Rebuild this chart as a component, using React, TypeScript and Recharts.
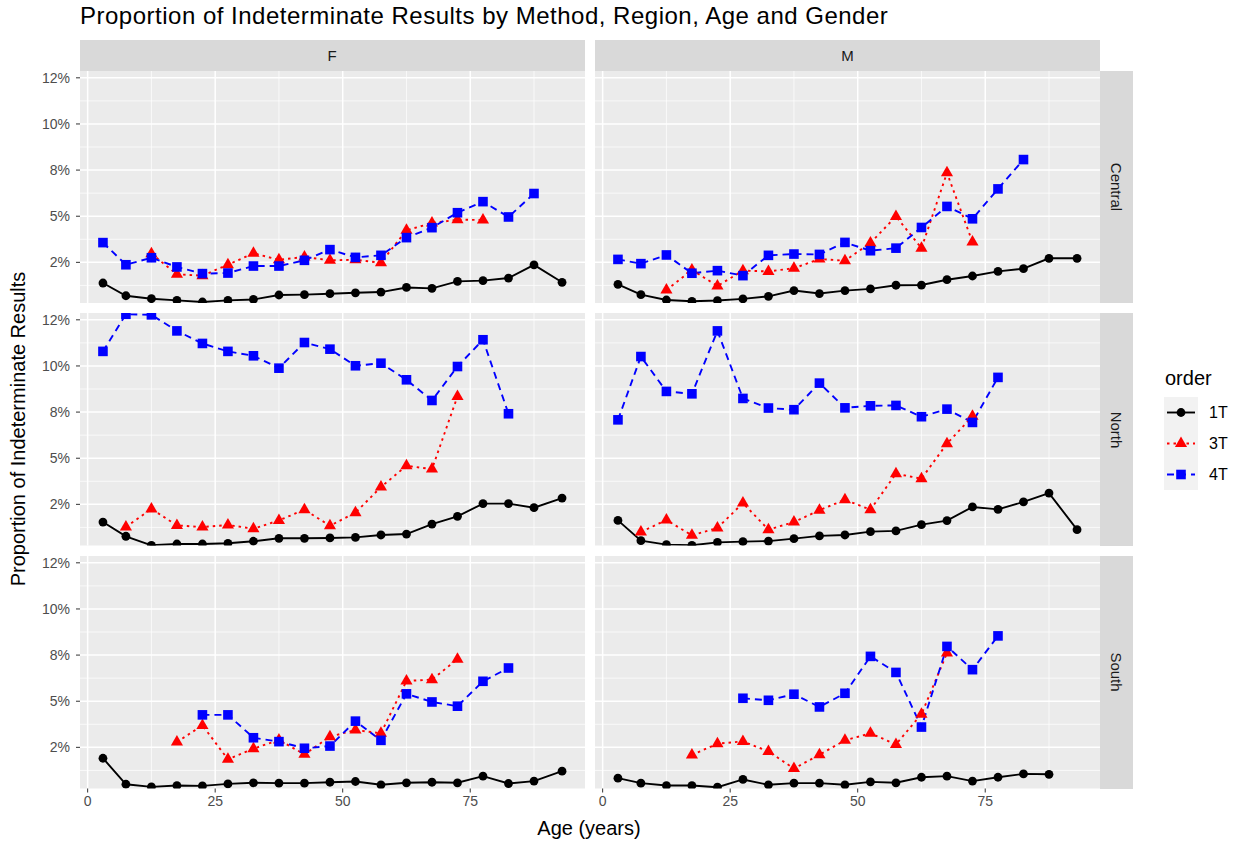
import React from 'react';
import { LineChart, Line, XAxis, YAxis, CartesianGrid } from 'recharts';

// mean age of each age band (years)
const ages = [3, 7.5, 12.5, 17.5, 22.5, 27.5, 32.5, 37.5, 42.5, 47.5, 52.5, 57.5, 62.5, 67.5, 72.5, 77.5, 82.5, 87.5, 93];

// proportions in %, one array per region / gender / order
const fCentral1T = [1.38, 0.69, 0.53, 0.44, 0.35, 0.44, 0.49, 0.73, 0.75, 0.8, 0.85, 0.89, 1.14, 1.09, 1.47, 1.51, 1.65, 2.36, 1.42];
const fCentral3T = [null, null, 2.97, 1.85, 1.78, 2.37, 2.99, 2.64, 2.79, 2.61, 2.64, 2.48, 4.24, 4.63, 4.81, 4.8, null, null, null];
const fCentral4T = [3.57, 2.37, 2.75, 2.25, 1.89, 1.92, 2.3, 2.3, 2.61, 3.19, 2.77, 2.88, 3.84, 4.38, 5.19, 5.79, 4.96, 6.23, null];

const mCentral1T = [1.31, 0.75, 0.46, 0.39, 0.43, 0.52, 0.66, 0.97, 0.81, 0.97, 1.06, 1.26, 1.27, 1.56, 1.76, 2.01, 2.16, 2.72, 2.72];
const mCentral3T = [null, null, 1.0, 2.09, 1.22, 2.05, 2.01, 2.18, 2.68, 2.59, 3.55, 4.99, 3.27, 7.35, 3.6, null, null, null, null];
const mCentral4T = [2.66, 2.43, 2.9, 1.91, 2.05, 1.78, 2.88, 2.95, 2.93, 3.58, 3.13, 3.27, 4.39, 5.53, 4.86, 6.48, 8.07, null, null];

const fNorth1T = [1.54, 0.77, 0.28, 0.35, 0.35, 0.39, 0.5, 0.66, 0.66, 0.68, 0.71, 0.84, 0.89, 1.43, 1.85, 2.54, 2.54, 2.32, 2.84];
const fNorth3T = [null, 1.27, 2.25, 1.36, 1.27, 1.38, 1.18, 1.63, 2.21, 1.34, 2.05, 3.44, 4.59, 4.41, 8.35, null, null, null, null];
const fNorth4T = [10.79, 12.8, 12.77, 11.9, 11.22, 10.79, 10.55, 9.88, 11.27, 10.91, 10.01, 10.15, 9.25, 8.13, 9.97, 11.42, 7.41, null, null];

const mNorth1T = [1.63, 0.53, 0.32, 0.28, 0.44, 0.48, 0.51, 0.64, 0.79, 0.84, 1.02, 1.06, 1.4, 1.62, 2.36, 2.23, 2.63, 3.11, 1.13];
const mNorth3T = [null, 1.0, 1.65, 0.82, 1.22, 2.57, 1.13, 1.54, 2.18, 2.75, 2.21, 4.16, 3.89, 5.79, 7.27, null, null, null, null];
const mNorth4T = [7.08, 10.51, 8.62, 8.49, 11.9, 8.24, 7.72, 7.63, 9.07, 7.73, 7.84, 7.86, 7.25, 7.66, 6.94, 9.38, null, null, null];

const fSouth1T = [1.91, 0.5, 0.36, 0.43, 0.41, 0.52, 0.58, 0.56, 0.56, 0.61, 0.65, 0.47, 0.58, 0.61, 0.58, 0.94, 0.54, 0.67, 1.21];
const fSouth3T = [null, null, null, 2.79, 3.69, 1.85, 2.43, 2.9, 2.12, 3.08, 3.44, 3.26, 6.1, 6.17, 7.28, null, null, null, null];
const fSouth4T = [null, null, null, null, 4.26, 4.26, 3.02, 2.81, 2.45, 2.57, 3.92, 2.88, 5.4, 4.96, 4.73, 6.08, 6.8, null, null];

const mSouth1T = [0.83, 0.56, 0.43, 0.43, 0.34, 0.76, 0.47, 0.56, 0.56, 0.47, 0.63, 0.58, 0.88, 0.94, 0.67, 0.88, 1.06, 1.04, null];
const mSouth3T = [null, null, null, 2.09, 2.7, 2.82, 2.28, 1.35, 2.1, 2.88, 3.26, 2.66, 4.3, 7.61, null, null, null, null, null];
const mSouth4T = [null, null, null, null, null, 5.16, 5.05, 5.38, 4.69, 5.43, 7.43, 6.56, 3.6, 7.97, 6.71, 8.54, null, null, null];

const genders = ['F', 'M'];
const regions = ['Central', 'North', 'South'];
const orders = ['1T', '3T', '4T'];

const yTicks = [2.5, 5, 7.5, 10, 12.5];
const yTickLabels = ['2%', '5%', '8%', '10%', '12%'];
const yMinor = [1.25, 3.75, 6.25, 8.75, 11.25];
const xTicks = [0, 25, 50, 75];
const xMinor = [12.5, 37.5, 62.5, 87.5];

const build = (t1: (number | null)[], t3: (number | null)[], t4: (number | null)[]) =>
    ages.map((age, i) => ({ age, t1: t1[i], t3: t3[i], t4: t4[i] }));

const panels = [
    [build(fCentral1T, fCentral3T, fCentral4T), build(mCentral1T, mCentral3T, mCentral4T)],
    [build(fNorth1T, fNorth3T, fNorth4T), build(mNorth1T, mNorth3T, mNorth4T)],
    [build(fSouth1T, fSouth3T, fSouth4T), build(mSouth1T, mSouth3T, mSouth4T)],
];

const PW = 505;
const PH = 232.5;
const colLeft = [79.5, 595];
const rowTop = [70.7, 313.3, 556];
const YAW = 50;
const XAH = 30;
const FONT = '"Liberation Sans", Arial, sans-serif';

const COLORS = { t1: '#000000', t3: '#FF0000', t4: '#0000FF' };

const CircleDot = (p: any) =>
    p.cy == null ? <g key={p.index} /> : <circle key={p.index} cx={p.cx} cy={p.cy} r={4.4} fill={COLORS.t1} />;

const TriangleDot = (p: any) => {
    if (p.cy == null) return <g key={p.index} />;
    const r = 7;
    const pts = `${p.cx},${p.cy - r} ${p.cx + r * 0.866},${p.cy + r / 2} ${p.cx - r * 0.866},${p.cy + r / 2}`;
    return <polygon key={p.index} points={pts} fill={COLORS.t3} />;
};

const SquareDot = (p: any) => {
    if (p.cy == null) return <g key={p.index} />;
    const h = 4.8;
    return <rect key={p.index} x={p.cx - h} y={p.cy - h} width={h * 2} height={h * 2} fill={COLORS.t4} />;
};

function Panel({ data, left, top, showX, showY }: any) {
    const yw = showY ? YAW : 0;
    const xh = showX ? XAH : 0;
    return (
        <div style={{ position: 'absolute', left: left - yw, top }}>
            <LineChart width={PW + yw} height={PH + xh} data={data} margin={{ top: 0, right: 0, bottom: 0, left: 0 }}>
                <CartesianGrid fill="#EBEBEB" stroke="#FFFFFF" strokeWidth={0.7}
                               horizontalValues={yMinor} verticalValues={xMinor} />
                <CartesianGrid fill="none" stroke="#FFFFFF" strokeWidth={1.5}
                               horizontalValues={yTicks} verticalValues={xTicks} />
                <XAxis type="number" dataKey="age" domain={[-1.5, 97.5]} allowDataOverflow ticks={xTicks}
                       interval={0} hide={!showX} height={xh} axisLine={false}
                       tickSize={4} tickMargin={4} tickLine={{ stroke: '#333333' }}
                       tick={{ fill: '#4D4D4D', fontSize: 14 }} />
                <YAxis type="number" domain={[0.27, 12.87]} allowDataOverflow ticks={yTicks}
                       interval={0} hide={!showY} width={yw} axisLine={false}
                       tickSize={4} tickMargin={6} tickLine={{ stroke: '#333333' }}
                       tick={{ fill: '#4D4D4D', fontSize: 14 }}
                       tickFormatter={(v: number) => yTickLabels[yTicks.indexOf(v)]} />
                <Line type="linear" dataKey="t1" stroke={COLORS.t1} strokeWidth={1.9}
                      dot={CircleDot} activeDot={false} isAnimationActive={false} />
                <Line type="linear" dataKey="t3" stroke={COLORS.t3} strokeWidth={1.9} strokeDasharray="2.5 4"
                      dot={TriangleDot} activeDot={false} isAnimationActive={false} />
                <Line type="linear" dataKey="t4" stroke={COLORS.t4} strokeWidth={1.9} strokeDasharray="7 5"
                      dot={SquareDot} activeDot={false} isAnimationActive={false} />
            </LineChart>
        </div>
    );
}

function LegendKey({ order }: { order: string }) {
    const cx = 17;
    const cy = 15.5;
    return (
        <svg width={34} height={31} style={{ display: 'block' }}>
            {order === '1T' && <>
                <line x1={3} x2={31} y1={cy} y2={cy} stroke={COLORS.t1} strokeWidth={1.9} />
                <circle cx={cx} cy={cy} r={4.4} fill={COLORS.t1} />
            </>}
            {order === '3T' && <>
                <line x1={3} x2={31} y1={cy} y2={cy} stroke={COLORS.t3} strokeWidth={1.9} strokeDasharray="2.5 4" />
                <polygon points={`${cx},${cy - 7} ${cx + 6.06},${cy + 3.5} ${cx - 6.06},${cy + 3.5}`} fill={COLORS.t3} />
            </>}
            {order === '4T' && <>
                <line x1={3} x2={31} y1={cy} y2={cy} stroke={COLORS.t4} strokeWidth={1.9} strokeDasharray="7 5" />
                <rect x={cx - 4.8} y={cy - 4.8} width={9.6} height={9.6} fill={COLORS.t4} />
            </>}
        </svg>
    );
}

export default function App() {
    return (
        <div style={{ position: 'absolute', left: 0, top: 0, width: 1238, height: 842, background: '#FFFFFF', fontFamily: FONT, overflow: 'hidden' }}>
            <div style={{ position: 'absolute', left: 80, top: 2, fontSize: 24, letterSpacing: 0.5, color: '#000', whiteSpace: 'nowrap' }}>
                Proportion of Indeterminate Results by Method, Region, Age and Gender
            </div>

            {genders.map((g, c) => (
                <div key={g} style={{ position: 'absolute', left: colLeft[c], top: 39.5, width: PW, height: 31.2, background: '#D9D9D9',
                    display: 'flex', alignItems: 'center', justifyContent: 'center', fontSize: 15, color: '#1A1A1A' }}>
                    {g}
                </div>
            ))}

            {regions.map((r, i) => (
                <div key={r} style={{ position: 'absolute', left: 1099.6, top: rowTop[i], width: 33, height: PH, background: '#D9D9D9' }}>
                    <div style={{ position: 'absolute', left: '50%', top: '50%', transform: 'translate(-50%, -50%) rotate(90deg)',
                        fontSize: 15, color: '#1A1A1A', whiteSpace: 'nowrap' }}>{r}</div>
                </div>
            ))}

            {panels.map((row, i) => row.map((data, c) => (
                <Panel key={`${i}-${c}`} data={data} left={colLeft[c]} top={rowTop[i]} showX={i === 2} showY={c === 0} />
            )))}

            <div style={{ position: 'absolute', left: 18, top: 429, transform: 'translate(-50%, -50%) rotate(-90deg)',
                fontSize: 20, color: '#000', whiteSpace: 'nowrap' }}>
                Proportion of Indeterminate Results
            </div>
            <div style={{ position: 'absolute', left: 589, top: 828, transform: 'translate(-50%, -50%)',
                fontSize: 20, color: '#000', whiteSpace: 'nowrap' }}>
                Age (years)
            </div>

            <div style={{ position: 'absolute', left: 1165, top: 367, fontSize: 20, color: '#000' }}>order</div>
            <div style={{ position: 'absolute', left: 1164, top: 397, width: 34, background: '#F2F2F2' }}>
                {orders.map(o => <LegendKey key={o} order={o} />)}
            </div>
            {orders.map((o, i) => (
                <div key={o} style={{ position: 'absolute', left: 1209, top: 402.5 + i * 31, fontSize: 16, lineHeight: '20px', color: '#000' }}>{o}</div>
            ))}
        </div>
    );
}
